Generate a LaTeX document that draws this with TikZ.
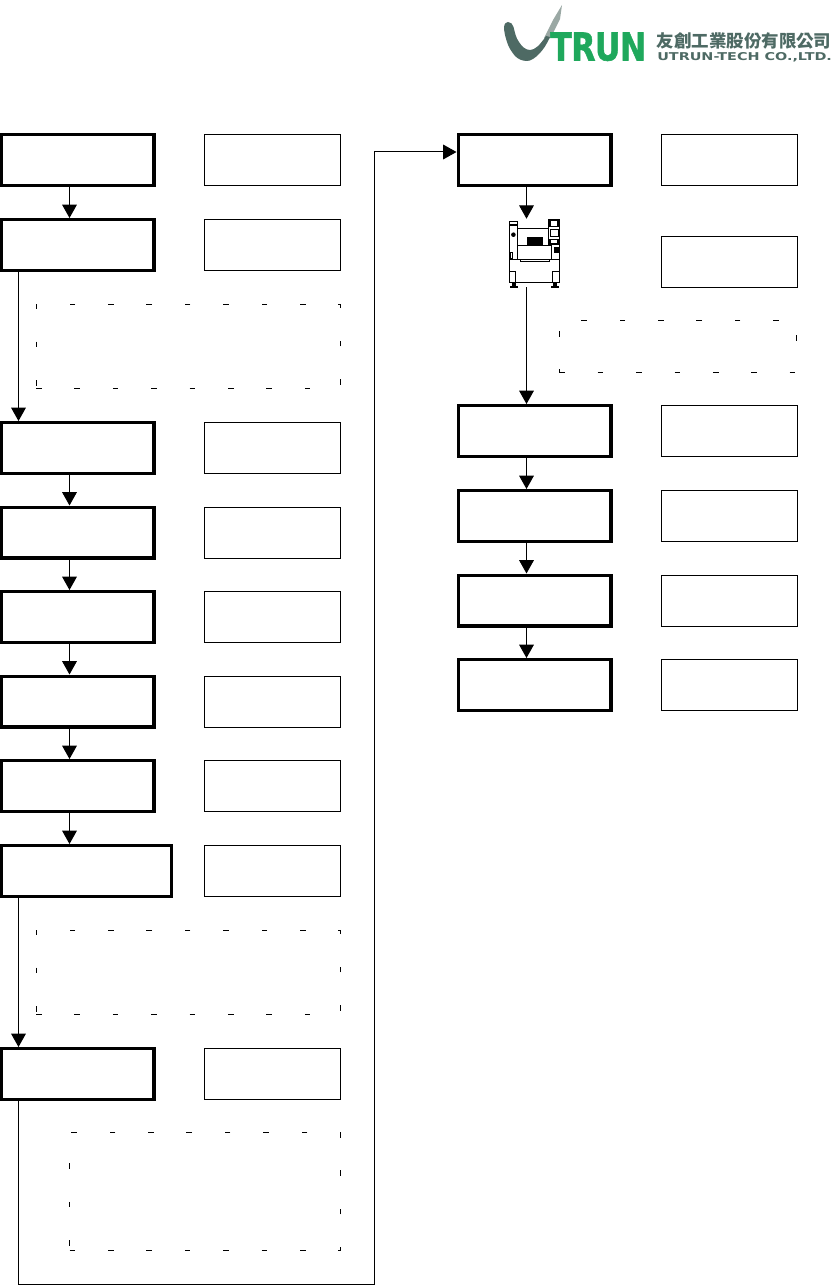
\documentclass[tikz,border=0pt]{standalone}
\usepackage{fontspec}
\usetikzlibrary{arrows.meta}
\newfontfamily\cjkfont{Noto Sans CJK TC}
\newfontfamily\logofont{DejaVu Sans}
\newfontfamily\trunfont[UprightFont=* Bold,FakeBold=1.5,LetterSpace=-2]{DejaVu Sans}
\definecolor{logogreen}{HTML}{1FA85C}
\definecolor{logogrey}{HTML}{4E6A64}
\definecolor{logostreak}{HTML}{9AA8A4}
\pgfdeclarelayer{edgelayer}
\pgfdeclarelayer{nodelayer}
\pgfsetlayers{edgelayer,nodelayer,main}
\tikzstyle{stepbox}=[rectangle, fill=white, draw=black, line width=2.5pt, inner sep=0pt, minimum width=114.5pt, minimum height=38pt]
\tikzstyle{widebox}=[style=stepbox, minimum width=127.5pt]
\tikzstyle{infobox}=[rectangle, draw=black, line width=0.75pt, inner sep=0pt, minimum width=102pt, minimum height=38.25pt]
\tikzstyle{notebox}=[rectangle, draw=black, line width=0.6pt, inner sep=0pt, dash pattern=on 4.2pt off 24.6pt]
\tikzstyle{edge}=[draw=black, line width=0.75pt, -{Triangle[length=10pt,width=11pt]}]
\tikzstyle{machine}=[draw=black, line width=0.75pt, fill=white]

\begin{document}
\begin{tikzpicture}[x=0.75pt, y=-0.75pt]
	\useasboundingbox (0,0) rectangle (837,1287);
	\coordinate (laneA) at (69.5,0);
	\coordinate (laneB) at (18.5,0);
	\coordinate (laneC) at (526.5,0);
	\begin{pgfonlayer}{nodelayer}
		% left column
		\node [style=stepbox] (s1) at (77.5,160) {};
		\node [style=stepbox] (s2) at (77.5,245) {};
		\node [style=stepbox] (s3) at (77.5,448) {};
		\node [style=stepbox] (s4) at (77.5,532.5) {};
		\node [style=stepbox] (s5) at (77.5,617) {};
		\node [style=stepbox] (s6) at (77.5,701.5) {};
		\node [style=stepbox] (s7) at (77.5,786) {};
		\node [style=widebox] (s8) at (86.4,871) {};
		\node [style=stepbox] (s9) at (77.5,1074) {};
		\node [style=infobox] (i1) at (272.5,160) {};
		\node [style=infobox] (i2) at (272.5,245) {};
		\node [style=infobox] (i3) at (272.5,448) {};
		\node [style=infobox] (i4) at (272.5,532.5) {};
		\node [style=infobox] (i5) at (272.5,617) {};
		\node [style=infobox] (i6) at (272.5,701.5) {};
		\node [style=infobox] (i7) at (272.5,786) {};
		\node [style=infobox] (i8) at (272.5,871) {};
		\node [style=infobox] (i9) at (272.5,1074) {};
		\node [style=notebox, minimum width=228pt, minimum height=63pt] (n1) at (188,346) {};
		\node [style=notebox, minimum width=228pt, minimum height=63pt] (n2) at (188,972) {};
		\node [style=notebox, minimum width=203pt, minimum height=89pt] (n3) at (205,1191.5) {};
		% right column
		\node [style=stepbox] (r1) at (534.5,160) {};
		\node [style=stepbox] (r2) at (534.5,431) {};
		\node [style=stepbox] (r3) at (534.5,516) {};
		\node [style=stepbox] (r4) at (534.5,600.5) {};
		\node [style=stepbox] (r5) at (534.5,685) {};
		\node [style=infobox] (j1) at (729,160) {};
		\node [style=infobox] (j2) at (729,262) {};
		\node [style=infobox] (j3) at (729,431) {};
		\node [style=infobox] (j4) at (729,516) {};
		\node [style=infobox] (j5) at (729,600.5) {};
		\node [style=infobox] (j6) at (729,685) {};
		\node [style=notebox, minimum width=178pt, minimum height=39pt] (n4) at (678,346) {};
		\node [inner sep=0pt, minimum width=42pt, minimum height=51pt] (m1) at (534.5,253) {};
	\end{pgfonlayer}
	\begin{pgfonlayer}{edgelayer}
		\draw [style=edge] (laneA |- s1.south) to (laneA |- s2.north);
		\draw [style=edge] (laneB |- s2.south) to (laneB |- s3.north);
		\draw [style=edge] (laneA |- s3.south) to (laneA |- s4.north);
		\draw [style=edge] (laneA |- s4.south) to (laneA |- s5.north);
		\draw [style=edge] (laneA |- s5.south) to (laneA |- s6.north);
		\draw [style=edge] (laneA |- s6.south) to (laneA |- s7.north);
		\draw [style=edge] (laneA |- s7.south) to (laneA |- s8.north);
		\draw [style=edge] (laneB |- s8.south) to (laneB |- s9.north);
		\coordinate (c1) at (18.5,1284.5);
		\coordinate (c2) at (374.5,1284.5);
		\coordinate (c3) at (374.5,152);
		\draw [style=edge] (laneB |- s9.south) -- (c1) -- (c2) -- (c3) -- (c3 -| r1.west);
		\draw [style=edge] (laneC |- r1.south) to (laneC |- m1.north);
		\draw [style=edge] (laneC |- m1.south) to (laneC |- r2.north);
		\draw [style=edge] (laneC |- r2.south) to (laneC |- r3.north);
		\draw [style=edge] (laneC |- r3.south) to (laneC |- r4.north);
		\draw [style=edge] (laneC |- r4.south) to (laneC |- r5.north);
	\end{pgfonlayer}
	% machine
	\draw [style=machine] (517.7,228.3) rectangle (548.3,245.3);
	\fill (527,237) rectangle (543,245.3);
	\draw [style=machine] (509.3,221.3) rectangle (517.7,259.3);
	\fill (509.3,224) rectangle (517.7,226);
	\fill (513.4,234.7) circle (2.3);
	\draw [style=machine] (510.2,252.5) rectangle (512.7,259);
	\draw [style=machine] (517.7,245.3) rectangle (551.5,259.3);
	\draw [style=machine] (551.5,245) rectangle (559.7,259.3);
	\fill (554,247) rectangle (559,253.3);
	\draw [style=machine] (548.3,219.3) rectangle (559.7,245);
	\draw [line width=0.9pt] (550,220.5) rectangle (558,226.5);
	\draw [line width=0.6pt] (550,229.5) rectangle (558,236.5);
	\draw [line width=0.9pt] (550,239.5) rectangle (558,243.5);
	\draw [style=machine] (509.3,259.3) -- (520.3,259.3) -- (520.3,261.7) -- (549.3,261.7) -- (549.3,259.3) -- (559.7,259.3) -- (559.7,282.7) -- (509.3,282.7) -- cycle;
	\draw [style=machine] (509.3,271.7) rectangle (515.7,282.7);
	\draw [style=machine] (552,271.7) rectangle (559.7,282.7);
	\fill (512.3,282.7) rectangle (515.7,286);
	\fill (510,286) rectangle (518,288);
	\fill (553,282.7) rectangle (556.5,286);
	\fill (551,286) rectangle (559,288);
	% logo
	\fill [logostreak] (544,38) -- (553,20) -- (562,5) -- (560,19) -- (553,33) -- (549,39) -- cycle;
	\fill [logogrey] (504,27) .. controls (504.5,23.5) and (506,22) .. (508,22) .. controls (511,22) and (512.5,24) .. (513.5,27) .. controls (515,33) and (516,38) .. (519,42) .. controls (522,47) and (526,50) .. (530,50) .. controls (535,50) and (540,45) .. (546,36) -- (550,37) .. controls (547,44) and (543,50) .. (539,54) .. controls (535,58) and (531,61) .. (527,61) .. controls (522,61) and (518,59) .. (515,56) .. controls (511,51) and (508.5,47) .. (507,42) .. controls (505,36) and (504,31) .. (504,27) -- cycle;
	\node [anchor=base west, inner sep=0pt, text=logogreen] (l1) at (550,60.5) {\resizebox{72pt}{21pt}{\trunfont TRUN}};
	\node [anchor=south west, inner sep=0pt, text=logogrey] (l2) at (656.5,50) {\resizebox*{131pt}{12.5pt}{\cjkfont\bfseries 友創工業股份有限公司}};
	\node [anchor=base west, inner sep=0pt, text=logogrey] (l3) at (657,61) {\resizebox{131pt}{6pt}{\logofont\bfseries UTRUN-TECH CO.,LTD.}};
\end{tikzpicture}
\end{document}
